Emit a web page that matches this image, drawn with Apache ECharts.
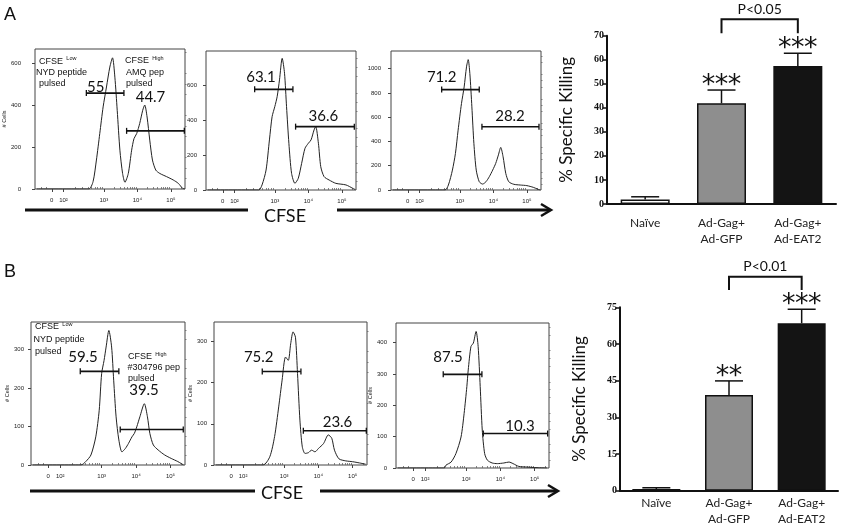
<!DOCTYPE html>
<html><head><meta charset="utf-8">
<script src="https://cdn.jsdelivr.net/npm/echarts@6/dist/echarts.min.js"></script>
<style>html,body{margin:0;padding:0;background:#fff}#c{width:841px;height:527px}</style>
</head><body><div id="c"></div><script>
// ---------- DATA ----------
// Flow histograms: [display position in decades, # cells]
const histA1 = [[1.0,0],[2.55,0],[2.68,35],[2.78,138],[2.88,264],[2.98,391],[3.08,486],[3.18,581],[3.26,625],[3.33,533],[3.40,375],[3.48,185],[3.56,74],[3.63,32],[3.73,74],[3.83,185],[3.90,240],[3.98,264],[4.07,312],[4.16,375],[4.22,400],[4.29,343],[4.37,233],[4.45,138],[4.55,90],[4.67,74],[4.87,59],[5.07,43],[5.22,27],[5.35,3],[5.42,0]];
const histA2 = [[1.0,0],[2.52,0],[2.62,29],[2.74,114],[2.84,286],[2.92,419],[3.00,476],[3.07,533],[3.14,629],[3.22,752],[3.29,667],[3.35,476],[3.42,267],[3.50,95],[3.60,38],[3.70,67],[3.80,152],[3.90,238],[4.00,267],[4.08,286],[4.17,343],[4.22,362],[4.30,267],[4.37,133],[4.47,76],[4.62,57],[4.82,38],[5.12,29],[5.32,10],[5.40,2]];
const histA3 = [[1.0,0],[2.56,0],[2.66,41],[2.78,164],[2.87,301],[2.95,493],[3.05,712],[3.13,849],[3.20,1014],[3.25,1074],[3.30,959],[3.36,685],[3.42,384],[3.49,164],[3.58,68],[3.68,49],[3.78,68],[3.88,110],[3.98,164],[4.07,219],[4.15,288],[4.22,351],[4.29,274],[4.37,137],[4.46,68],[4.61,47],[4.80,41],[5.00,36],[5.19,22],[5.34,5],[5.40,0]];
const histB1 = [[1.0,0],[2.40,0],[2.54,9],[2.69,26],[2.83,73],[2.93,142],[3.00,237],[3.07,271],[3.13,306],[3.21,349],[3.29,306],[3.35,220],[3.42,125],[3.50,65],[3.59,34],[3.69,43],[3.78,56],[3.88,73],[3.95,82],[4.02,99],[4.11,125],[4.24,159],[4.33,125],[4.40,82],[4.50,52],[4.64,39],[4.83,26],[5.02,17],[5.21,9],[5.38,0]];
const histB2 = [[1.0,0],[2.38,0],[2.58,20],[2.72,69],[2.84,141],[2.94,206],[3.04,262],[3.12,254],[3.19,294],[3.26,323],[3.33,310],[3.39,222],[3.46,109],[3.53,44],[3.61,28],[3.71,30],[3.80,36],[3.90,32],[4.00,40],[4.15,52],[4.29,73],[4.39,65],[4.47,36],[4.60,15],[4.80,10],[5.00,8],[5.20,5],[5.38,2]];
const histB3 = [[1.0,0],[2.36,0],[2.41,9],[2.56,19],[2.70,46],[2.85,99],[2.94,174],[3.02,260],[3.06,313],[3.14,388],[3.21,399],[3.29,436],[3.35,388],[3.41,260],[3.47,121],[3.54,46],[3.62,25],[3.76,16],[3.91,14],[4.10,16],[4.25,19],[4.37,14],[4.54,5],[4.78,3],[5.07,1],[5.36,0]];

// Gates: [start, end, level]
const gatesA1 = [[2.48,3.60,457],[3.68,5.40,277]];
const gatesA2 = [[2.40,3.54,575],[3.62,5.37,362]];
const gatesA3 = [[2.46,3.58,827],[3.66,5.36,521]];
const gatesB1 = [[2.38,3.50,243],[3.54,5.37,92]];
const gatesB2 = [[2.36,3.49,227],[3.56,5.40,83]];
const gatesB3 = [[2.33,3.46,299],[3.50,5.38,110]];
const gateTextA1 = ['55','44.7'];
const gateTextA2 = ['63.1','36.6'];
const gateTextA3 = ['71.2','28.2'];
const gateTextB1 = ['59.5','39.5'];
const gateTextB2 = ['75.2','23.6'];
const gateTextB3 = ['87.5','10.3'];

// Axis ticks
const xTickVals = [1.45, 1.8, 3, 4, 5];
const xTickText = ['0','10\u00b2','10\u00b3','10\u2074','10\u2075'];
const yTicksA1 = [0,200,400,600];
const yTicksA2 = [0,200,400,600];
const yTicksA3 = [0,200,400,600,800,1000];
const yTicksB1 = [0,100,200,300];
const yTicksB2 = [0,100,200,300];
const yTicksB3 = [0,100,200,300,400];

// Bar charts
const barCats = ['Na\u00efve','Ad-Gag+\nAd-GFP','Ad-Gag+\nAd-EAT2'];
const killA = [1.9, 41.9, 57.4];
const semA = [1.1, 5.5, 5.3];
const starsA = ['', '***', '***'];
const killB = [0.7, 39.1, 68.5];
const semB = [0.5, 5.8, 5.7];
const starsB = ['', '**', '***'];
const pTextA = 'P<0.05';
const pTextB = 'P<0.01';
const bracketA = [1, 2, 71, 76.8];
const bracketB = [1, 2, 82.1, 87.5];

// ---------- STYLE / LAYOUT ----------
const F_SANS = 'Liberation Sans, Arial, sans-serif';
const F_CAL = 'Lato, Open Sans, sans-serif';
const X_MIN = 0.95, X_MAX = 5.42;
const BAR_FILL = ['#ffffff', '#8e8e8e', '#141414'];

const xMinor = [];
[1.15,1.3].forEach(v=>xMinor.push(v));
for (let k=2;k<=9;k++) xMinor.push(1.8 + 1.2*Math.log10(k));
for (let d=3; d<=4; d++) for (let k=2;k<=9;k++) xMinor.push(d + Math.log10(k));
xMinor.push(5 + Math.log10(2));

const histPanels = [
  {curve:histA1, gates:gatesA1, gtext:gateTextA1, yTicks:yTicksA1, yMax:667, box:[35,49,150,140], lm:14, yName:true, ng:22,
   lpos:[[95.7,87.5],[150.5,97.5]]},
  {curve:histA2, gates:gatesA2, gtext:gateTextA2, yTicks:yTicksA2, yMax:794, box:[206,51,150,139], lm:9, yName:false, ng:20,
   lpos:[[261,77.5],[323.3,116]]},
  {curve:histA3, gates:gatesA3, gtext:gateTextA3, yTicks:yTicksA3, yMax:1145, box:[391,51,150,139], lm:10, yName:false, ng:22,
   lpos:[[441.7,77],[510,116]]},
  {curve:histB1, gates:gatesB1, gtext:gateTextB1, yTicks:yTicksB1, yMax:371, box:[31,322,154,143], lm:7, yName:true, ng:18,
   lpos:[[83,357],[144,390]]},
  {curve:histB2, gates:gatesB2, gtext:gateTextB2, yTicks:yTicksB2, yMax:347, box:[214,322,153,143], lm:7, yName:true, ng:20,
   lpos:[[258.7,357.5],[337.5,422.5]]},
  {curve:histB3, gates:gatesB3, gtext:gateTextB3, yTicks:yTicksB3, yMax:463, box:[396,323,153,145], lm:9, yName:true, ng:23,
   lpos:[[448,357],[520,426]]}
];

function xLabel(v){
  let best=0, bd=1e9;
  xTickVals.forEach((t,i)=>{const d=Math.abs(t-v); if(d<bd){bd=d;best=i;}});
  return xTickText[best];
}

const grids=[], xAxes=[], yAxes=[], series=[], graphics=[];

function txt(x,y,text,size,family,opts){
  opts = opts||{};
  return {type:'text', x:x, y:y, silent:true, style:Object.assign({text:text, fontSize:size, fontFamily:family, fill:'#111',
    align:opts.align||'center', textAlign:opts.align||'center', verticalAlign:'middle', textVerticalAlign:'middle',
    fontWeight:opts.weight||'normal'}, opts.extra||{})};
}

histPanels.forEach((p,i)=>{
  grids.push({left:p.box[0], top:p.box[1], width:p.box[2], height:p.box[3], show:true, borderColor:'#444', borderWidth:1});
  xAxes.push({gridIndex:i, type:'value', min:X_MIN, max:X_MAX, axisLine:{show:false}, splitLine:{show:false},
    axisTick:{show:true, customValues:xTickVals, length:3, lineStyle:{color:'#444', width:1}},
    axisLabel:{customValues:xTickVals, formatter:xLabel, fontSize:6, color:'#222', margin:8, fontFamily:F_SANS}});
  xAxes.push({gridIndex:i, type:'value', min:X_MIN, max:X_MAX, axisLine:{show:false}, splitLine:{show:false},
    axisLabel:{show:false}, axisTick:{show:true, customValues:xMinor, length:2, lineStyle:{color:'#666', width:0.8}}});
  const step = p.yTicks[1]-p.yTicks[0];
  const yMinor = [];
  for (let v=step/4; v<p.yMax; v+=step/4) if (Math.abs(v/step-Math.round(v/step))>1e-6) yMinor.push(v);
  yAxes.push({gridIndex:i, type:'value', min:0, max:p.yMax, axisLine:{show:false}, splitLine:{show:false},
    axisTick:{show:true, customValues:p.yTicks, length:3, lineStyle:{color:'#444'}},
    axisLabel:{customValues:p.yTicks, formatter:v=>String(v), fontSize:6, color:'#222', margin:p.lm, fontFamily:F_SANS},
    name:p.yName?'# Cells':'', nameLocation:'middle', nameGap:p.ng, nameTextStyle:{fontSize:5.5, color:'#222', fontFamily:F_SANS}});
  yAxes.push({gridIndex:i, type:'value', min:0, max:p.yMax, axisLine:{show:false}, splitLine:{show:false},
    axisLabel:{show:false}, axisTick:{show:true, customValues:yMinor, length:1.5, lineStyle:{color:'#666', width:0.8}}});
  series.push({type:'line', xAxisIndex:2*i, yAxisIndex:2*i, data:p.curve, showSymbol:false, smooth:0.25,
    lineStyle:{color:'#222', width:1}, itemStyle:{color:'#222'}, silent:true, z:2});
  p.gates.forEach(g=>{
    series.push({type:'line', xAxisIndex:2*i, yAxisIndex:2*i, data:[[g[0],g[2]],[g[1],g[2]]],
      symbol:'rect', symbolSize:[1.3,6], showSymbol:true, lineStyle:{color:'#111', width:1.6}, itemStyle:{color:'#111'}, silent:true, z:3});
  });
  p.gtext.forEach((t,k)=>{ graphics.push(txt(p.lpos[k][0], p.lpos[k][1], t, 15, F_CAL)); });
});

// ---------- BAR CHARTS ----------
function errRender(stars){
  return function(params, api){
    const i=api.value(0), v=api.value(1), e=api.value(2);
    const b=api.coord([i,v]), t=api.coord([i,v+e]);
    const ch=[
      {type:'line', shape:{x1:b[0],y1:b[1],x2:t[0],y2:t[1]}, style:{stroke:'#111', lineWidth:1.5}},
      {type:'line', shape:{x1:t[0]-14,y1:t[1],x2:t[0]+14,y2:t[1]}, style:{stroke:'#111', lineWidth:1.5}}
    ];
    const s=stars[params.dataIndex]||'';
    for (let k=0;k<s.length;k++){
      ch.push({type:'text', x:t[0]+(k-(s.length-1)/2)*13, y:t[1]-4,
        style:{text:'*', fontSize:27, fontFamily:'DejaVu Sans', fill:'#111', align:'center', textAlign:'center', verticalAlign:'middle', textVerticalAlign:'middle'}});
    }
    return {type:'group', children:ch};
  };
}
function bracketRender(label){
  return function(params, api){
    const a=api.value(0), b=api.value(1), lo=api.value(2), hi=api.value(3);
    const p1=api.coord([a,lo]), p2=api.coord([a,hi]), p3=api.coord([b,hi]), p4=api.coord([b,lo]);
    return {type:'group', children:[
      {type:'polyline', shape:{points:[p1,p2,p3,p4]}, style:{stroke:'#111', lineWidth:2, fill:null}},
      {type:'text', x:(p2[0]+p3[0])/2, y:p2[1]-10, style:{text:label, fontSize:14, fontFamily:F_CAL, fill:'#111',
        align:'center', textAlign:'center', verticalAlign:'middle', textVerticalAlign:'middle'}}
    ]};
  };
}

const barPanels = [
  {vals:killA, sem:semA, stars:starsA, max:70, interval:10, box:[607,35.7,229,168.3], lmargin:11, br:bracketA, ptext:pTextA, bw:49},
  {vals:killB, sem:semB, stars:starsB, max:75, interval:15, box:[620,307.3,218,183.4], lmargin:4, br:bracketB, ptext:pTextB, bw:48}
];
barPanels.forEach((b,j)=>{
  const gi = histPanels.length + j;
  grids.push({left:b.box[0], top:b.box[1], width:b.box[2], height:b.box[3]});
  const xi = xAxes.length, yi = yAxes.length;
  xAxes.push({gridIndex:gi, type:'category', data:barCats, axisLine:{show:true, lineStyle:{color:'#111', width:2}},
    axisTick:{show:false}, axisLabel:{fontSize:12, fontFamily:F_CAL, color:'#222', margin:b.lmargin, lineHeight:16}});
  yAxes.push({gridIndex:gi, type:'value', min:0, max:b.max, interval:b.interval, splitLine:{show:false},
    axisLine:{show:true, lineStyle:{color:'#111', width:2}},
    axisTick:{show:true, length:4, lineStyle:{color:'#111', width:1.5}},
    axisLabel:{fontSize:10, fontWeight:'bold', fontFamily:'Liberation Sans Narrow', color:'#111', margin:3},
    name:'% Specific Killing', nameLocation:'middle', nameGap:32, nameTextStyle:{fontSize:17, fontFamily:F_CAL, color:'#111'}});
  series.push({type:'bar', xAxisIndex:xi, yAxisIndex:yi, barWidth:b.bw,
    data:b.vals.map((v,i)=>({value:v, itemStyle:{color:BAR_FILL[i]}})),
    itemStyle:{borderColor:'#111', borderWidth:1.5}, silent:true, z:2});
  series.push({type:'custom', xAxisIndex:xi, yAxisIndex:yi, clip:false, silent:true, z:4,
    data:b.vals.map((v,i)=>[i, v, b.sem[i]]), encode:{x:0, y:1}, renderItem:errRender(b.stars)});
  series.push({type:'custom', xAxisIndex:xi, yAxisIndex:yi, clip:false, silent:true, z:4,
    data:[b.br], encode:{x:[0,1], y:[2,3]}, renderItem:bracketRender(b.ptext)});
});

// ---------- ANNOTATIONS ----------
graphics.push(txt(10,15,'A',18,F_SANS));
graphics.push(txt(10,272,'B',18,F_SANS));
function sup(x,y,main,s){
  return {type:'text', x:x, y:y, silent:true, style:{text:'{m|'+main+'} {s|'+s+'}', fill:'#111',
    align:'left', textAlign:'left', verticalAlign:'middle', textVerticalAlign:'middle',
    rich:{m:{fontSize:9, fontFamily:F_SANS, fill:'#111'}, s:{fontSize:5.5, fontFamily:F_SANS, fill:'#111', verticalAlign:'top'}}}};
}
const small = (x,y,t)=>txt(x,y,t,9,F_SANS,{align:'left'});
// A1 annotations
graphics.push(sup(39,61.5,'CFSE','Low'), small(36,72.5,'NYD peptide'), small(39,84,'pulsed'));
graphics.push(sup(125,61,'CFSE','High'), small(126,72.5,'AMQ pep'), small(126,83.5,'pulsed'));
// B1 annotations
graphics.push(sup(35,327,'CFSE','Low'), small(33.5,339.5,'NYD peptide'), small(35,351.5,'pulsed'));
graphics.push(sup(128,357,'CFSE','High'), small(127.5,368,'#304796 pep'), small(128,378.5,'pulsed'));

// CFSE arrows
const L = (x1,y1,x2,y2,w)=>({type:'line', silent:true, shape:{x1:x1,y1:y1,x2:x2,y2:y2}, style:{stroke:'#111', lineWidth:w}});
const arrow = (x,y)=>({type:'polyline', silent:true, shape:{points:[[x-10,y-6],[x,y],[x-10,y+6]]}, style:{stroke:'#111', lineWidth:2.5, fill:null}});
graphics.push(L(25,210,248,210,3), L(337,210,550,210,3), arrow(551,210), txt(285,216,'CFSE',18,F_CAL));
graphics.push(L(30,491,255,491,3), L(320,491,557,491,3), arrow(558,491), txt(282,493,'CFSE',18,F_CAL));

const chart = echarts.init(document.getElementById('c'), null, {renderer:'canvas'});
chart.setOption({
  animation:false, backgroundColor:'#fff',
  grid:grids, xAxis:xAxes, yAxis:yAxes, series:series, graphic:{elements:graphics}
});
</script></body></html>
